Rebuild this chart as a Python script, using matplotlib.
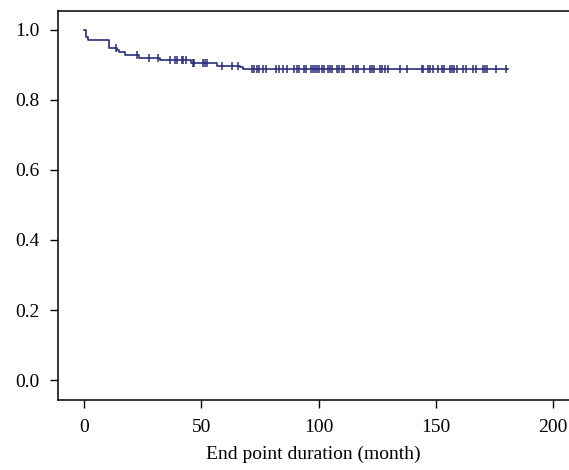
import numpy as np
import matplotlib
matplotlib.use("Agg")
import matplotlib.pyplot as plt

# Kaplan-Meier steps
event_times = [0.0, 0.9, 1.7, 10.8, 14.2, 15.0, 17.6, 23.3, 32.5, 45.5, 56.8, 66.5, 67.7]
survival = [1.0, 0.981, 0.971, 0.949, 0.943, 0.936, 0.929, 0.921, 0.913, 0.906, 0.898, 0.893, 0.889]
end_time = 181.0

censor_times = [13.6, 22.7, 27.9, 31.7, 36.7, 38.8, 39.5, 41.7, 42.3, 43.3, 46.3, 47.0,
                50.9, 51.6, 52.3, 59.0, 63.0, 65.8,
                71.7, 72.6, 73.6, 74.7, 76.5, 77.6, 81.9, 83.3, 84.7, 86.7, 89.7, 90.7, 91.7,
                93.9, 94.7, 96.8, 97.5, 98.5, 99.5, 100.3, 101.4, 102.3, 103.9, 104.9, 105.8,
                107.9, 108.9, 109.9, 110.9, 114.6, 115.9, 117.0, 119.2, 122.0, 123.0, 123.7,
                126.0, 127.0, 128.4, 129.8, 134.6, 137.6, 144.0, 144.7, 146.6, 147.6, 148.7,
                151.1, 152.5, 153.7, 156.1, 156.8, 157.8, 158.9, 161.7, 162.9, 166.0, 167.2,
                170.0, 170.9, 171.9, 175.7, 180.0]

xticks = [0, 50, 100, 150, 200]
yticks = [0.0, 0.2, 0.4, 0.6, 0.8, 1.0]

plt.rcParams['font.family'] = ['Liberation Serif', 'DejaVu Serif']
plt.rcParams['font.size'] = 14

col = '#2a2e78'

fig = plt.figure(figsize=(5.69, 4.70), dpi=100)
# frame runs off the right edge in the reference, so no right spine
ax = fig.add_axes([58/569, 70/470, 1 - 58/569, (400 - 11)/470])

st = list(event_times) + [end_time]
sv = list(survival) + [survival[-1]]
ax.step(st, sv, where='post', color=col, lw=1.2)

idx = np.searchsorted(event_times, censor_times, side='right') - 1
cy = np.array(survival)[idx]
ax.plot(censor_times, cy, ls='none', marker='|', ms=6, mew=1.1, color=col)

ax.set_xlim(-11.1, 206.8)
ax.set_ylim(-0.057, 1.054)
ax.set_xticks(xticks)
ax.set_yticks(yticks)
ax.set_yticklabels([f'{v:.1f}' for v in yticks])
ax.spines['right'].set_visible(False)
for s in ['left', 'bottom', 'top']:
    ax.spines[s].set_linewidth(1.1)
ax.tick_params(direction='out', length=6, width=1.0, colors='black', pad=7)
ax.tick_params(axis='x', pad=8)
ax.set_xlabel('End point duration (month)', labelpad=7)

fig.savefig('out.png', dpi=100)
